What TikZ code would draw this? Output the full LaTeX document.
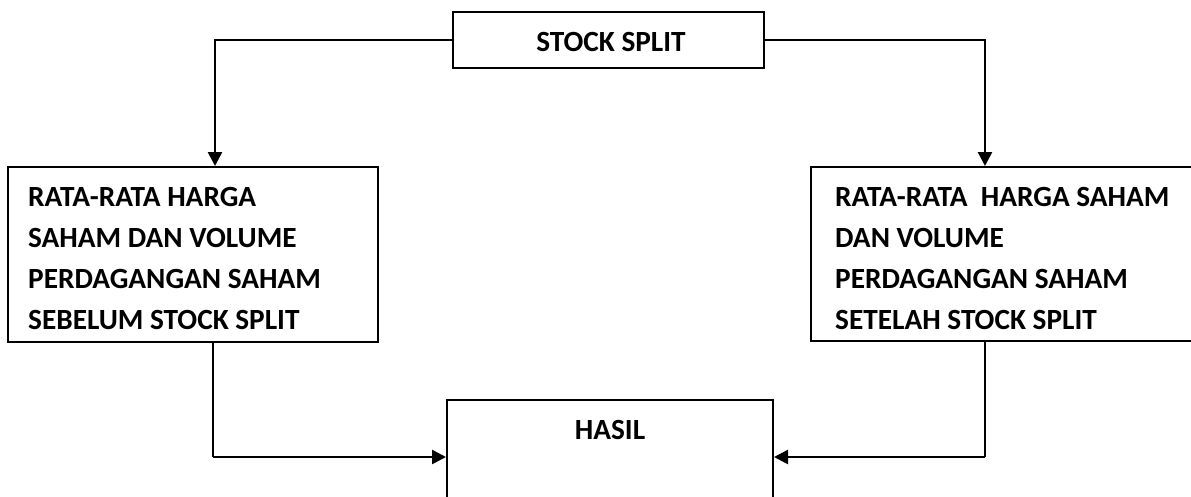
\documentclass[tikz,border=0pt]{standalone}
\usepackage{fontspec}
\setmainfont{Carlito}
\usetikzlibrary{arrows.meta}

\begin{document}
\begin{tikzpicture}[x=1pt,y=-1pt,
  box/.style={draw=black,line width=2pt,minimum width=#1,inner sep=0pt},
  txt/.style={font=\fontsize{29.3}{41}\selectfont\bfseries,align=left,inner sep=0pt,anchor=north west},
  lbl/.style={font=\fontsize{29.3}{34}\selectfont\bfseries,inner sep=0pt},
  conn/.style={line width=2.5pt,-{Triangle[length=14pt,width=14pt]}},
  plain/.style={line width=2.3pt},
  thinline/.style={line width=1.4pt}]
\useasboundingbox (0,0) rectangle (1191,496);

% boxes
\node[box=311pt,minimum height=56pt] (ss) at (608.5,40) {};
\node[lbl] (sstxt) at (611,42) {STOCK SPLIT};

\node[box=370pt,minimum height=175pt] (lbox) at (193,254.5) {};
\node[txt] (ltxt) at (28,187.5) {RATA-RATA HARGA\\SAHAM DAN VOLUME\\PERDAGANGAN SAHAM\\SEBELUM STOCK SPLIT};

\node[box=389pt,minimum height=174pt] (rbox) at (1005.5,254) {};
\node[txt] (rtxt) at (835,187.5) {RATA-RATA\ \ HARGA SAHAM\\DAN VOLUME\\PERDAGANGAN SAHAM\\SETELAH STOCK SPLIT};

\node[box=326pt,minimum height=120pt] (hasil) at (610,460) {};
\node[lbl] (hasiltxt) at (610,430) {HASIL};

% routing columns
\coordinate (lcol) at (215,0);
\coordinate (rcol) at (985,0);
\coordinate (lcolb) at (213,0);
\coordinate (row) at (0,457);

% top connectors
\draw[conn] (ss.west) -| (lcol |- lbox.north);
\draw[conn] (ss.east) -| (rcol |- rbox.north);

% bottom connectors
\draw[thinline] (lcolb |- lbox.south) -- (lcolb |- row);
\draw[conn] (lcolb |- row) -- (hasil.west |- row);
\draw[plain] (rcol |- rbox.south) -- (rcol |- row);
\draw[conn] (rcol |- row) -- (hasil.east |- row);
\end{tikzpicture}
\end{document}
